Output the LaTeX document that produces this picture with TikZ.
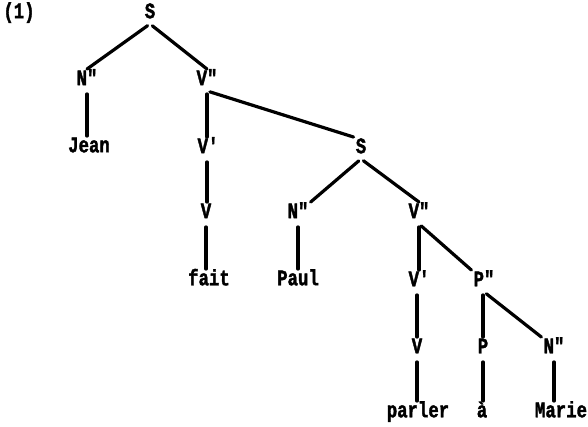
\documentclass[tikz,border=0pt]{standalone}
\usepackage{fontspec}
\setmonofont{Liberation Mono}[BoldFeatures={FakeBold=2}]
\newcommand\tx[1]{\scalebox{1.02}[1.3]{#1}}
\tikzset{
  lab/.style={inner xsep=2pt, inner ysep=3.5pt, text height=12.5pt, text depth=2pt, font=\fontsize{17}{17}\selectfont\ttfamily\bfseries},
  br/.style={line width=3.2pt, line cap=round, shorten <=3pt}
}
\begin{document}
\begin{tikzpicture}[x=1pt,y=-1pt]
\useasboundingbox (0,0) rectangle (588,427);
\node[lab] (num) at (19,13) {\tx{(1)}};
\node[lab] (s1) at (150,13) {\tx{S}};
\node[lab] (n1) at (87,80) {\tx{N"}};
\node[lab] (v1) at (207,80) {\tx{V"}};
\node[lab] (jean) at (89,147) {\tx{Jean}};
\node[lab] (vp1) at (208,148) {\tx{V'}};
\node[lab] (vv1) at (206,213) {\tx{V}};
\node[lab] (fait) at (209,280) {\tx{fait}};
\node[lab] (s2) at (361,148) {\tx{S}};
\node[lab] (n2) at (298,213) {\tx{N"}};
\node[lab] (v2) at (419,213) {\tx{V"}};
\node[lab] (paul) at (298,280) {\tx{Paul}};
\node[lab] (vp2) at (419,281) {\tx{V'}};
\node[lab] (pp) at (484,281) {\tx{P"}};
\node[lab] (vv2) at (417,348) {\tx{V}};
\node[lab] (p) at (483,348) {\tx{P}};
\node[lab] (n3) at (554,348) {\tx{N"}};
\node[lab] (parler) at (418,412) {\tx{parler}};
\node[lab] (a) at (482,412) {\tx{à}};
\node[lab] (marie) at (561,412) {\tx{Marie}};
\draw[br] (s1.south) -- (n1.north);
\draw[br] (s1.south) -- (v1.north);
\draw[br] (n1.south) -- (n1.south |- jean.north);
\draw[br] (v1.south) -- (v1.south |- vp1.north);
\draw[br] (v1.south) -- (s2.north west);
\draw[br] (vp1.south -| v1.south) -- (v1.south |- vv1.north);
\draw[br] (vv1.south) -- (vv1.south |- fait.north);
\draw[br] (s2.south) -- (n2.north east);
\draw[br] (s2.south) -- (v2.north);
\draw[br] (n2.south) -- (n2.south |- paul.north);
\draw[br] (v2.south) -- (v2.south |- vp2.north);
\draw[br] (v2.south) -- (pp.north west);
\draw[br] (vp2.south -| vv2.south) -- (vv2.north);
\draw[br] (vv2.south) -- (vv2.south |- parler.north);
\draw[br] (pp.south -| p.north) -- (p.north);
\draw[br] (pp.south) -- (n3.north west);
\draw[br] (p.south) -- (p.south |- a.north);
\draw[br] (n3.south) -- (n3.south |- marie.north);
\end{tikzpicture}
\end{document}
